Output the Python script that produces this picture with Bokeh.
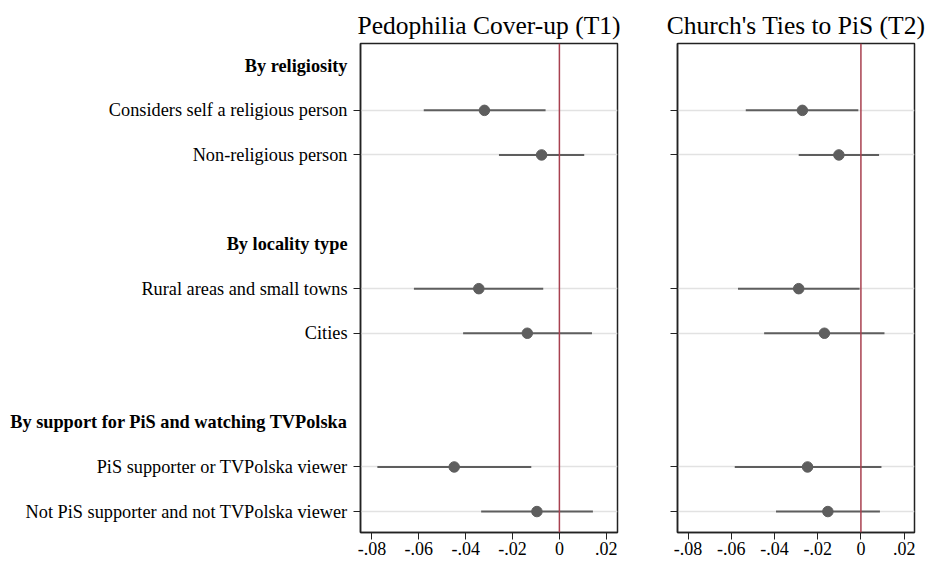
from bokeh.plotting import figure
from bokeh.layouts import row
from bokeh.models import Range1d, FixedTicker, Span, ColumnDataSource
from bokeh.core.properties import value
from bokeh.embed import file_html
from bokeh.resources import INLINE

titles = ["Pedophilia Cover-up (T1)", "Church's Ties to PiS (T2)"]
groups = ["By religiosity", "By locality type", "By support for PiS and watching TVPolska"]
row_labels = ["Considers self a religious person", "Non-religious person",
              "Rural areas and small towns", "Cities",
              "PiS supporter or TVPolska viewer", "Not PiS supporter and not TVPolska viewer"]
row_group = [0, 0, 1, 1, 2, 2]

coef_t1 = [-0.0320, -0.0076, -0.0344, -0.0137, -0.0449, -0.0096]
lo_t1 = [-0.0579, -0.0258, -0.0621, -0.0411, -0.0777, -0.0334]
hi_t1 = [-0.0059, 0.0106, -0.0069, 0.0139, -0.0120, 0.0143]

coef_t2 = [-0.0271, -0.0102, -0.0288, -0.0169, -0.0247, -0.0153]
lo_t2 = [-0.0533, -0.0288, -0.0569, -0.0448, -0.0584, -0.0393]
hi_t2 = [-0.0012, 0.0084, -0.0006, 0.0109, 0.0095, 0.0088]

x_ticks = [-0.08, -0.06, -0.04, -0.02, 0.0, 0.02]
x_tick_labels = ["-.08", "-.06", "-.04", "-.02", "0", ".02"]

# positions: header, rows, gap per group
header_pos = []
row_pos = []
pos = 0
for gi, g in enumerate(groups):
    header_pos.append(pos)
    pos += 1
    for ri, rg in enumerate(row_group):
        if rg == gi:
            row_pos.append(pos)
            pos += 1
    pos += 1

FONT = "Liberation Serif"
DARK = "#222222"
GRAY = "#5e5e5e"
RED = "#a8404f"

TOP = 43
FH = 489
Y_RANGE = (10.47, -0.5)
X_RANGE = (-0.0849, 0.0248)
LABEL_W = 352


def make_panel(title, coef, lo, hi, min_left, min_right, fw):
    p = figure(output_backend="svg", toolbar_location=None,
               frame_width=fw, frame_height=FH,
               x_range=Range1d(*X_RANGE),
               y_range=Range1d(*Y_RANGE),
               min_border_left=min_left, min_border_right=min_right,
               min_border_top=TOP, min_border_bottom=0,
               background_fill_color="white", border_fill_color="white")
    p.title.text = title
    p.title.text_font = FONT
    p.title.text_font_size = "25.5px"
    p.title.text_font_style = "normal"
    p.title.align = "center"
    p.title.text_color = "black"
    p.title.standoff = 8

    p.outline_line_color = DARK
    p.outline_line_width = 1.5
    p.outline_line_alpha = 1

    p.xgrid.visible = False
    p.ygrid.ticker = FixedTicker(ticks=row_pos)
    p.ygrid.grid_line_color = "#e2e2e2"
    p.ygrid.grid_line_width = 1.5

    xa = p.xaxis[0]
    xa.ticker = FixedTicker(ticks=x_ticks)
    xa.major_label_overrides = {t: l for t, l in zip(x_ticks, x_tick_labels)}
    xa.major_label_text_font = FONT
    xa.major_label_text_font_size = "18px"
    xa.major_label_text_color = "black"
    xa.major_tick_out = 7
    xa.major_tick_in = 0
    xa.minor_tick_out = 0
    xa.minor_tick_in = 0
    xa.major_label_standoff = 2
    xa.axis_line_color = DARK
    xa.axis_line_width = 1.5
    xa.major_tick_line_color = DARK

    ya = p.yaxis[0]
    ya.ticker = FixedTicker(ticks=row_pos)
    ya.major_label_text_color = None
    ya.major_label_standoff = 0
    ya.major_tick_out = 7
    ya.major_tick_in = 0
    ya.minor_tick_out = 0
    ya.minor_tick_in = 0
    ya.axis_line_color = DARK
    ya.axis_line_width = 1.5
    ya.major_tick_line_color = DARK

    p.add_layout(Span(location=0, dimension="height", line_color=RED, line_width=1.5))

    src = ColumnDataSource(dict(y=row_pos, c=coef, lo=lo, hi=hi))
    p.segment(x0="lo", x1="hi", y0="y", y1="y", source=src, line_color=GRAY, line_width=2)
    p.scatter(x="c", y="y", source=src, size=10.5, fill_color=GRAY, line_color=GRAY)
    return p


# label column: row labels and bold group headers
p0 = figure(output_backend="svg", toolbar_location=None,
            frame_width=LABEL_W, frame_height=FH,
            x_range=Range1d(0, LABEL_W), y_range=Range1d(*Y_RANGE),
            min_border_left=0, min_border_right=0,
            min_border_top=TOP, min_border_bottom=0,
            background_fill_color="white", border_fill_color="white")
p0.axis.visible = False
p0.grid.visible = False
p0.outline_line_color = None

p0.text(x=[347] * len(row_labels), y=row_pos, text=row_labels,
        text_font=value(FONT), text_font_size="18.3px", text_color="black",
        text_align="right", text_baseline="middle")
p0.text(x=[347] * len(groups), y=header_pos, text=groups,
        text_font=value(FONT), text_font_size="18.3px", text_font_style="bold",
        text_color="black", text_align="right", text_baseline="middle")

p1 = make_panel(titles[0], coef_t1, lo_t1, hi_t1, 8, 35, 257)
p2 = make_panel(titles[1], coef_t2, lo_t2, hi_t2, 25, 12, 237)

layout = row(p0, p1, p2)
open("out.html", "w").write(file_html(layout, INLINE))
